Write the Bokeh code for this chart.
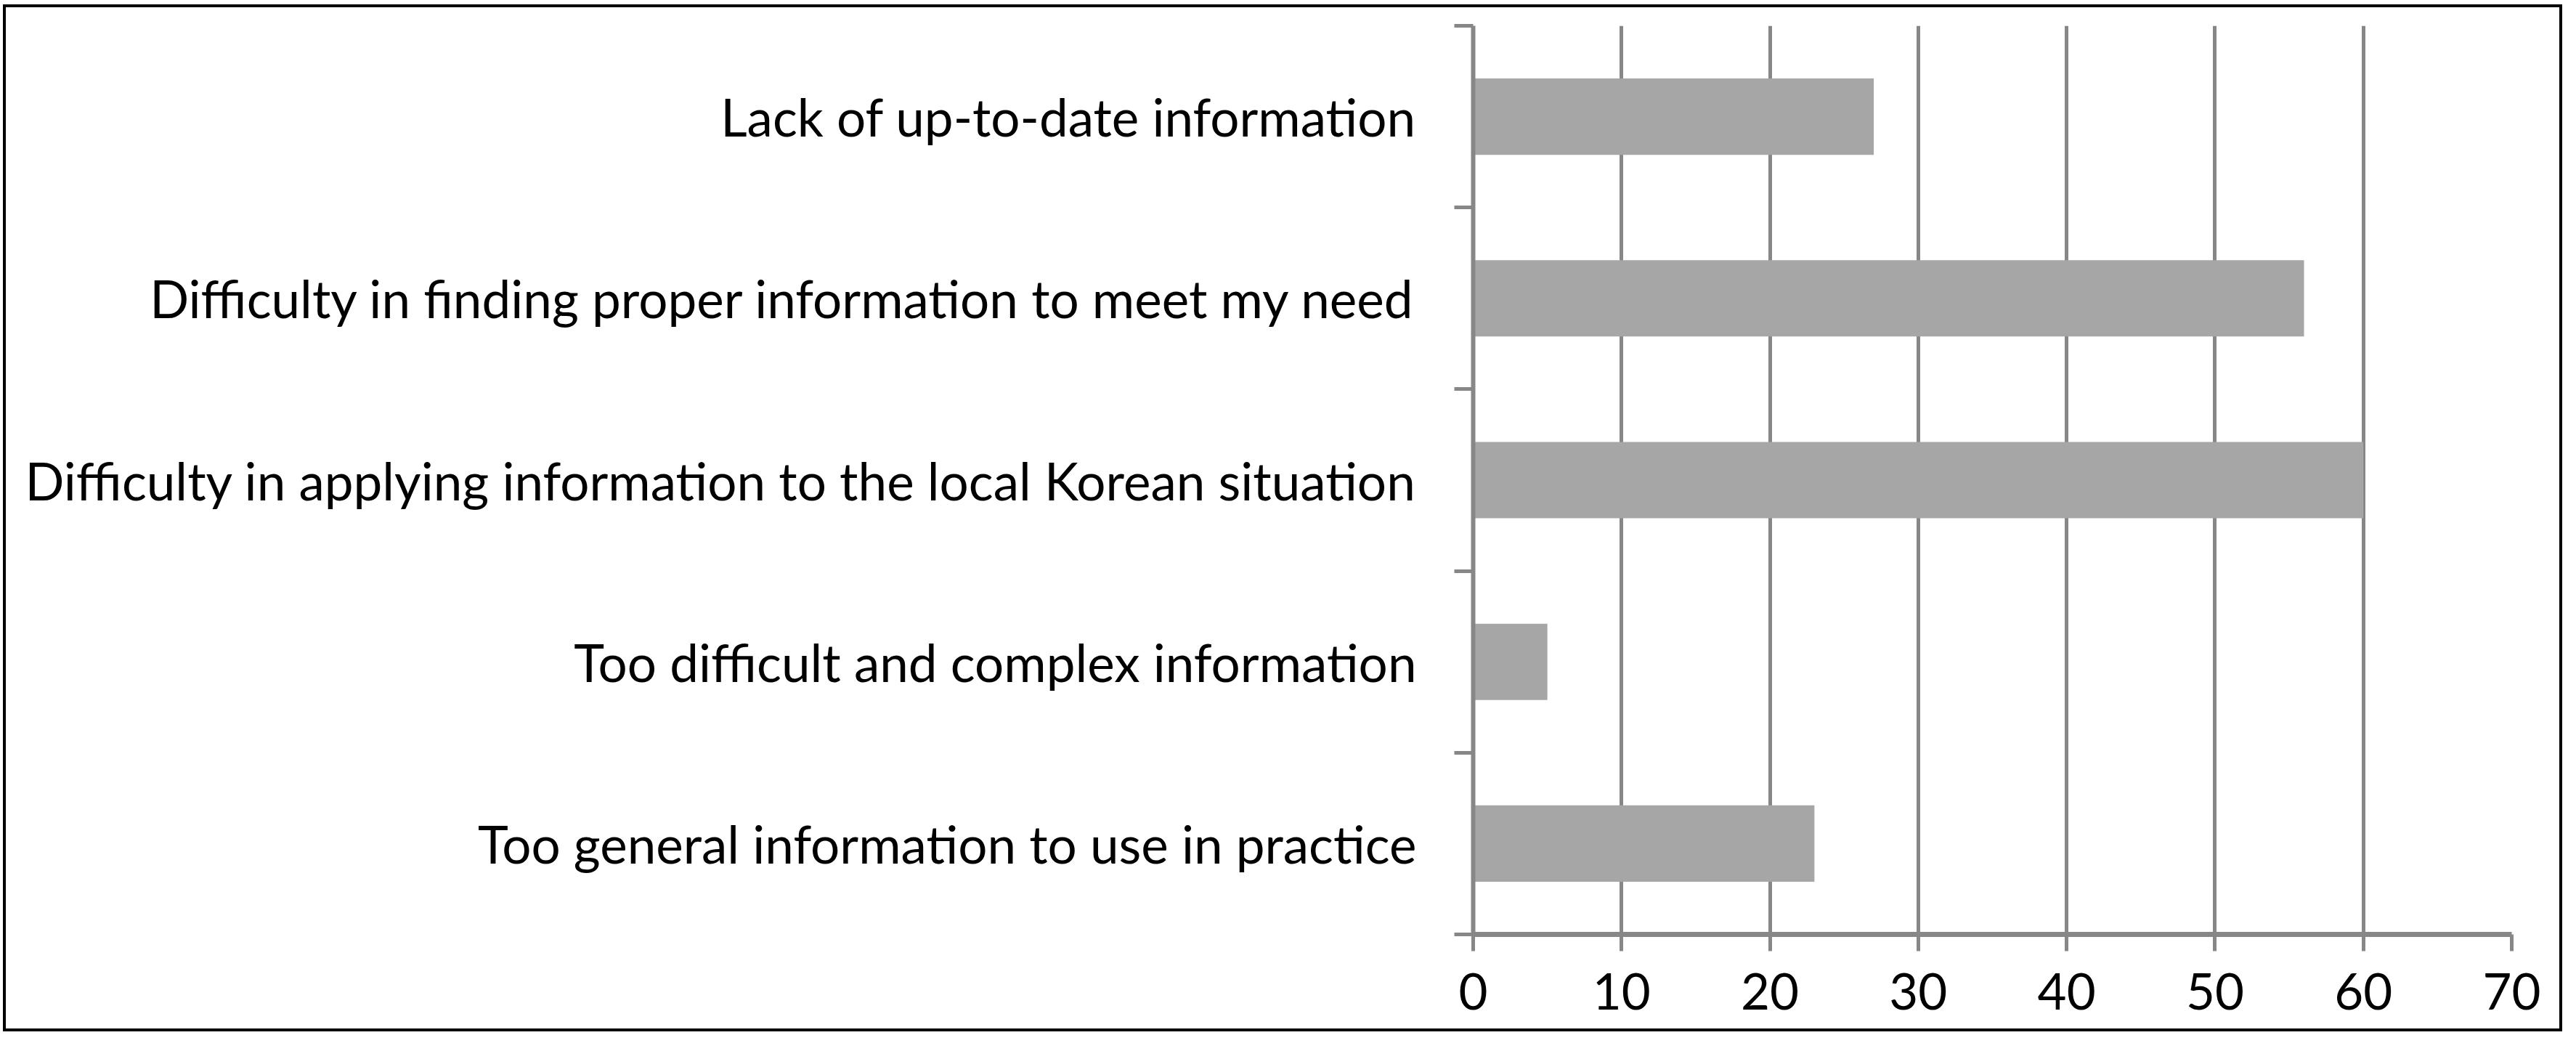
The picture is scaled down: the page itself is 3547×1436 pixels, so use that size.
from bokeh.plotting import figure
from bokeh.models import FixedTicker, Range1d, CustomJSTickFormatter
from bokeh.embed import file_html
from bokeh.resources import INLINE

# ---- data ----
categories = [
    "Lack of up-to-date information",
    "Difficulty in finding proper information to meet my need",
    "Difficulty in applying information to the local Korean situation",
    "Too difficult and complex information",
    "Too general information to use in practice",
]
values = [27, 56, 60, 5, 23]
x_ticks = [0, 10, 20, 30, 40, 50, 60, 70]

n = len(categories)
centers = [n - i - 0.5 for i in range(n)]      # first category at top
boundaries = list(range(n + 1))

GRAY = "#878787"
FONT = "Lato"

p = figure(
    width=3524, height=1414,
    x_range=Range1d(0, 70), y_range=Range1d(0, n),
    output_backend="svg", toolbar_location=None,
    min_border_left=2020, min_border_right=74,
    min_border_top=25, min_border_bottom=138,
    background_fill_color="white", border_fill_color="white",
    styles={"border": "4px solid black", "margin-left": "4px", "margin-top": "6px"},
)

p.hbar(y=centers, left=0, right=values, height=0.42,
       fill_color="#a6a6a6", line_color=None)

p.outline_line_color = None
p.ygrid.grid_line_color = None
p.xgrid.grid_line_color = GRAY
p.xgrid.grid_line_width = 5

# x axis
xa = p.xaxis[0]
xa.ticker = FixedTicker(ticks=x_ticks, minor_ticks=[])
xa.axis_line_color = GRAY
xa.axis_line_width = 7
xa.major_tick_line_color = GRAY
xa.major_tick_line_width = 5
xa.major_tick_in = 0
xa.major_tick_out = 23
xa.minor_tick_line_color = None
xa.major_label_text_font = FONT
xa.major_label_text_font_size = "69px"
xa.major_label_text_color = "black"
xa.major_label_standoff = 30

# y axis: labels at category centres, ticks at boundaries
ya = p.yaxis[0]
ya.ticker = FixedTicker(ticks=centers, minor_ticks=boundaries)
ya.formatter = CustomJSTickFormatter(
    args=dict(labels=categories, n=n),
    code="return labels[n - 1 - Math.floor(tick)];")
ya.axis_line_color = GRAY
ya.axis_line_width = 6
ya.major_tick_line_color = None
ya.major_tick_in = 0
ya.major_tick_out = 0
ya.minor_tick_line_color = GRAY
ya.minor_tick_line_width = 5
ya.minor_tick_in = 0
ya.minor_tick_out = 26
ya.major_label_text_font = FONT
ya.major_label_text_font_size = "71px"
ya.major_label_text_color = "black"
ya.major_label_standoff = 52

open("out.html", "w").write(file_html(p, INLINE))
